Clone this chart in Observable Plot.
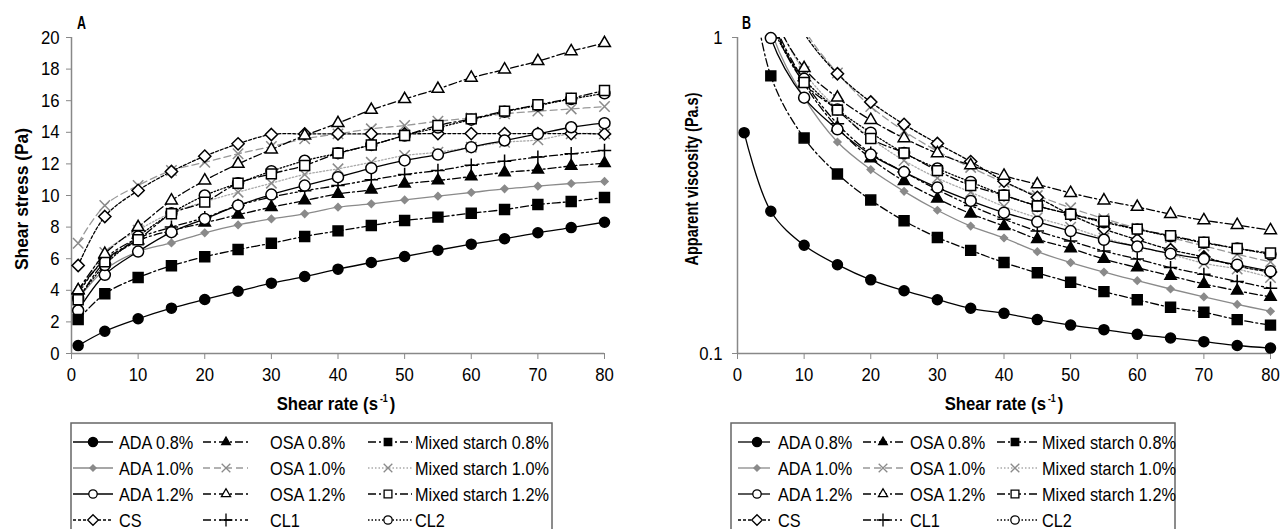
<!DOCTYPE html>
<html><head><meta charset="utf-8">
<script src="https://cdn.jsdelivr.net/npm/d3@7"></script>
<script src="https://cdn.jsdelivr.net/npm/@observablehq/plot@0.6"></script>
<style>
html,body{margin:0;padding:0;background:#fff;}
body{width:1286px;height:529px;overflow:hidden;position:relative;font-family:"Liberation Sans",Arial,sans-serif;}
.panel{position:absolute;top:0;}
#leg{position:absolute;left:0;top:0;pointer-events:none;}
</style></head><body>
<div id="A" class="panel" style="left:0px"></div>
<div id="B" class="panel" style="left:643px"></div>
<svg id="leg" width="1286" height="529"></svg>
<script>
// ---------------- data ----------------
const rates = [1,5,10,15,20,25,30,35,40,45,50,55,60,65,70,75,80];
const seriesNames = ["ADA 0.8%","OSA 0.8%","Mixed starch 0.8%","ADA 1.0%","OSA 1.0%","Mixed starch 1.0%","ADA 1.2%","OSA 1.2%","Mixed starch 1.2%","CS","CL1","CL2"];
const xTicks = [0,10,20,30,40,50,60,70,80];
const yTicksA = [0,2,4,6,8,10,12,14,16,18,20];
const yTicksB = [0.1,1];

// Panel A: shear stress (Pa)
const stressADA08 = [0.5,1.41,2.2,2.87,3.42,3.94,4.45,4.87,5.34,5.76,6.14,6.54,6.92,7.26,7.64,7.97,8.31];
const stressOSA08 = [4.0,5.9,7.15,7.78,8.27,8.78,9.26,9.68,10.1,10.36,10.74,10.95,11.2,11.46,11.63,11.87,12.04];
const stressMS08  = [2.15,3.78,4.81,5.55,6.12,6.58,6.98,7.41,7.76,8.1,8.42,8.63,8.88,9.11,9.43,9.62,9.87];
const stressADA10 = [3.46,5.3,6.45,7.0,7.64,8.14,8.52,8.84,9.26,9.47,9.72,9.96,10.19,10.42,10.59,10.76,10.89];
const stressOSA10 = [6.98,9.37,10.63,11.58,12.1,12.64,13.1,13.59,13.9,14.22,14.43,14.7,14.91,15.17,15.34,15.48,15.63];
const stressMS10  = [3.6,6.4,7.8,8.9,9.6,10.21,10.78,11.33,11.69,12.1,12.53,12.74,13.06,13.37,13.52,13.9,13.9];
const stressADA12 = [2.72,4.98,6.45,7.68,8.52,9.37,10.06,10.63,11.16,11.73,12.22,12.59,13.06,13.48,13.9,14.32,14.58];
const stressOSA12 = [4.0,6.3,8.0,9.68,10.95,12.0,12.91,13.8,14.58,15.42,16.1,16.75,17.45,17.97,18.5,19.13,19.64];
const stressMS12  = [3.4,5.8,7.2,8.84,9.58,10.78,11.37,11.9,12.68,13.2,13.8,14.43,14.85,15.34,15.74,16.16,16.65];
const stressCS    = [5.57,8.67,10.32,11.52,12.49,13.27,13.86,13.9,13.9,13.9,13.9,13.92,13.92,13.92,13.92,13.92,13.9];
const stressCL1   = [3.8,6.0,7.3,8.0,8.6,9.37,9.9,10.3,10.63,10.99,11.33,11.58,11.92,12.17,12.43,12.64,12.85];
const stressCL2   = [3.5,5.6,7.4,8.88,10.0,10.78,11.54,12.2,12.68,13.2,13.8,14.3,14.8,15.3,15.7,16.1,16.47];

// Panel B: apparent viscosity (Pa.s)
const viscADA08 = [0.5,0.282,0.22,0.191,0.171,0.158,0.148,0.139,0.134,0.128,0.123,0.119,0.115,0.112,0.109,0.106,0.104];
const viscOSA08 = [4.0,1.18,0.715,0.519,0.414,0.351,0.309,0.277,0.253,0.23,0.215,0.199,0.187,0.176,0.166,0.158,0.151];
const viscMS08  = [2.15,0.756,0.481,0.37,0.306,0.263,0.233,0.212,0.194,0.18,0.168,0.157,0.148,0.14,0.135,0.128,0.123];
const viscADA10 = [3.46,1.06,0.645,0.467,0.382,0.326,0.284,0.253,0.232,0.21,0.194,0.181,0.17,0.16,0.151,0.143,0.136];
const viscOSA10 = [6.98,1.87,1.063,0.772,0.605,0.506,0.437,0.388,0.348,0.316,0.289,0.267,0.249,0.233,0.219,0.206,0.195];
const viscMS10  = [3.6,1.28,0.78,0.593,0.48,0.408,0.359,0.324,0.292,0.269,0.251,0.232,0.218,0.206,0.193,0.185,0.174];
const viscADA12 = [2.72,0.996,0.645,0.512,0.426,0.375,0.335,0.304,0.279,0.261,0.244,0.229,0.218,0.207,0.199,0.191,0.182];
const viscOSA12 = [4.0,1.26,0.8,0.645,0.548,0.48,0.43,0.394,0.365,0.343,0.322,0.305,0.291,0.276,0.264,0.255,0.2455];
const viscMS12  = [3.4,1.16,0.72,0.589,0.479,0.431,0.379,0.34,0.317,0.293,0.276,0.262,0.2475,0.236,0.225,0.215,0.208];
const viscCS    = [5.57,1.73,1.032,0.768,0.625,0.531,0.462,0.405,0.351,0.312,0.275,0.248,0.229,0.213,0.202,0.189,0.181];
const viscCL1   = [3.8,1.2,0.73,0.533,0.43,0.375,0.33,0.294,0.266,0.244,0.227,0.211,0.199,0.187,0.178,0.169,0.161];
const viscCL2   = [3.5,1.12,0.74,0.592,0.5,0.431,0.385,0.349,0.317,0.293,0.276,0.26,0.247,0.235,0.224,0.215,0.206];

const stressBy = {"ADA 0.8%":stressADA08,"OSA 0.8%":stressOSA08,"Mixed starch 0.8%":stressMS08,"ADA 1.0%":stressADA10,"OSA 1.0%":stressOSA10,"Mixed starch 1.0%":stressMS10,"ADA 1.2%":stressADA12,"OSA 1.2%":stressOSA12,"Mixed starch 1.2%":stressMS12,"CS":stressCS,"CL1":stressCL1,"CL2":stressCL2};
const viscBy = {"ADA 0.8%":viscADA08,"OSA 0.8%":viscOSA08,"Mixed starch 0.8%":viscMS08,"ADA 1.0%":viscADA10,"OSA 1.0%":viscOSA10,"Mixed starch 1.0%":viscMS10,"ADA 1.2%":viscADA12,"OSA 1.2%":viscOSA12,"Mixed starch 1.2%":viscMS12,"CS":viscCS,"CL1":viscCL1,"CL2":viscCL2};

// ---------------- styles ----------------
const DD = "8,3,2,3";
const styles = {
  "ADA 0.8%":          {stroke:"#000", dash:null,          symbol:"circle",   fill:"#000", ms:"#000", r:5,   lr:4.6},
  "OSA 0.8%":          {stroke:"#000", dash:DD,            symbol:"triangle", fill:"#000", ms:"#000", r:4.2, lr:3.2},
  "Mixed starch 0.8%": {stroke:"#000", dash:DD,            symbol:"square",   fill:"#000", ms:"#000", r:5.6, lr:4.2},
  "ADA 1.0%":          {stroke:"#8a8a8a", dash:null,       symbol:"diamond2", fill:"#8a8a8a", ms:"#8a8a8a", r:3.2, lr:2.8},
  "OSA 1.0%":          {stroke:"#999", dash:"7,4",         symbol:"times",    fill:"none", ms:"#8a8a8a", r:4.8, lr:4},
  "Mixed starch 1.0%": {stroke:"#aaa", dash:"1.5,2",       symbol:"times",    fill:"none", ms:"#8a8a8a", r:4.8, lr:4},
  "ADA 1.2%":          {stroke:"#000", dash:null,          symbol:"circle",   fill:"#fff", ms:"#000", r:5.5, lr:4.2},
  "OSA 1.2%":          {stroke:"#000", dash:DD,            symbol:"triangle", fill:"#fff", ms:"#000", r:4.4, lr:3.4},
  "Mixed starch 1.2%": {stroke:"#000", dash:DD,            symbol:"square",   fill:"#fff", ms:"#000", r:5.6, lr:4.4},
  "CS":                {stroke:"#000", dash:"3,2",         symbol:"diamond2", fill:"#fff", ms:"#000", r:5.5, lr:4.8},
  "CL1":               {stroke:"#000", dash:"8,3,2,3,2,3", symbol:"plus",     fill:"none", ms:"#000", r:4.4, lr:4.2},
  "CL2":               {stroke:"#000", dash:"1.5,2",       symbol:"circle",   fill:"#fff", ms:"#000", r:5.5, lr:4.2}
};
const drawOrder = ["Mixed starch 1.0%","OSA 1.0%","ADA 1.0%","CS","CL1","OSA 0.8%","ADA 1.2%","CL2","Mixed starch 1.2%","OSA 1.2%","Mixed starch 0.8%","ADA 0.8%"];

const FONT = '"Liberation Sans",Arial,sans-serif';
const AXC = "#888";
const SQUEEZE = 0.88;

// horizontally condense text via textLength (the reference uses a narrow grotesque)
function condense(root, k) {
  d3.select(root).selectAll("text").each(function() {
    if (this.getAttribute("textLength")) return;
    const w = this.getComputedTextLength();
    if (w > 0) {
      this.setAttribute("textLength", (w * k).toFixed(2));
      this.setAttribute("lengthAdjust", "spacingAndGlyphs");
    }
  });
}

function seriesMarks(valuesBy, keep) {
  const marks = [];
  for (const name of drawOrder) {
    const st = styles[name];
    const data = rates.map((r, j) => ({x: r, y: valuesBy[name][j]}));
    marks.push(Plot.line(data, {x: "x", y: "y", stroke: st.stroke, strokeWidth: 1.3, strokeDasharray: st.dash || undefined, curve: "catmull-rom", clip: true}));
    marks.push(Plot.dot(data.filter(keep), {x: "x", y: "y", symbol: st.symbol, r: st.r, fill: st.fill, stroke: st.ms, strokeWidth: 1.5}));
  }
  return marks;
}

const baseStyle = {fontFamily: FONT, fontSize: "19px", color: "#000", background: "transparent", overflow: "visible"};

// ---------------- Panel A ----------------
const plotA = Plot.plot({
  width: 643, height: 420,
  marginLeft: 71, marginRight: 39, marginTop: 37, marginBottom: 67,
  style: baseStyle,
  x: {domain: [0, 80]},
  y: {domain: [0, 20]},
  marks: [
    Plot.axisX({ticks: xTicks, tickSize: 6, tickPadding: 8, stroke: AXC, label: null, tickFormat: d => d}),
    Plot.axisY({ticks: yTicksA, tickSize: 5, tickPadding: 7, stroke: AXC, label: null, tickFormat: d => d}),
    Plot.ruleX([0], {stroke: AXC, strokeWidth: 1.5}),
    Plot.ruleY([0], {stroke: AXC, strokeWidth: 1.5}),
    ...seriesMarks(stressBy, d => true)
  ]
});
document.getElementById("A").appendChild(plotA);

// ---------------- Panel B ----------------
const plotB = Plot.plot({
  width: 643, height: 420,
  marginLeft: 94, marginRight: 16, marginTop: 37, marginBottom: 67,
  style: baseStyle,
  x: {domain: [0, 80]},
  y: {type: "log", domain: [0.1, 1]},
  marks: [
    Plot.axisX({ticks: xTicks, tickSize: 6, tickPadding: 8, stroke: AXC, label: null, tickFormat: d => d}),
    Plot.axisY({ticks: yTicksB, tickSize: 5, tickPadding: 10, stroke: AXC, label: null, tickFormat: d => String(d)}),
    Plot.ruleX([0], {stroke: AXC, strokeWidth: 1.5}),
    Plot.ruleY([0.1], {stroke: AXC, strokeWidth: 1.5}),
    ...seriesMarks(viscBy, d => d.y <= 1.0 && d.y >= 0.1)
  ]
});
document.getElementById("B").appendChild(plotB);

condense(plotA, SQUEEZE);
condense(plotB, SQUEEZE);

// titles
function addTitles(svgEl, cfg) {
  const s = d3.select(svgEl);
  s.append("text").attr("x", cfg.px).attr("y", 29).attr("text-anchor", "start").attr("font-weight", "bold").attr("font-size", 18)
    .attr("textLength", 9).attr("lengthAdjust", "spacingAndGlyphs").text(cfg.panel);
  s.append("text").attr("transform", `translate(${cfg.yx},${cfg.yy}) rotate(-90)`)
    .attr("text-anchor", "middle").attr("font-weight", "bold").attr("font-size", 19)
    .attr("textLength", cfg.ylen).attr("lengthAdjust", "spacingAndGlyphs").text(cfg.ytitle);
  // x title built from three pieces laid side by side (main text, superscript, closing bracket)
  const parts = [
    {t: "Shear rate (s", size: 19, dy: 0},
    {t: "-1", size: 10, dy: -8},
    {t: ")", size: 19, dy: 0}
  ].map(p => {
    const el = s.append("text").attr("text-anchor", "start").attr("font-weight", "bold").attr("font-size", p.size).attr("y", 410 + p.dy).text(p.t);
    const w = el.node().getComputedTextLength() * SQUEEZE;
    el.attr("textLength", w.toFixed(2)).attr("lengthAdjust", "spacingAndGlyphs");
    return {el, w};
  });
  const gap = 2;
  const total = d3.sum(parts, p => p.w) + 2 * gap;
  let x = cfg.xx - total / 2;
  parts.forEach(p => { p.el.attr("x", x.toFixed(2)); x += p.w + gap; });
}
addTitles(plotA, {panel: "A", px: 77, ytitle: "Shear stress (Pa)", yx: 28, yy: 199, ylen: 142, xx: 336});
addTitles(plotB, {panel: "B", px: 99, ytitle: "Apparent viscosity (Pa.s)", yx: 55, yy: 179, ylen: 173, xx: 361});

// ---------------- Legends ----------------
const legendRows = [
  ["ADA 0.8%","OSA 0.8%","Mixed starch 0.8%"],
  ["ADA 1.0%","OSA 1.0%","Mixed starch 1.0%"],
  ["ADA 1.2%","OSA 1.2%","Mixed starch 1.2%"],
  ["CS","CL1","CL2"]
];
const rowY = [442, 468, 494, 520];
const symMap = {circle: d3.symbolCircle, triangle: d3.symbolTriangle, square: d3.symbolSquare, diamond2: d3.symbolDiamond2, times: d3.symbolTimes, plus: d3.symbolPlus};
function legend(cfg) {
  const s = d3.select("#leg").append("g").style("font-family", FONT);
  s.append("rect").attr("x", cfg.x0).attr("y", 423).attr("width", cfg.x1 - cfg.x0).attr("height", 140)
    .attr("fill", "#fff").attr("stroke", "#666").attr("stroke-width", 1.5);
  legendRows.forEach((row, ri) => row.forEach((name, ci) => {
    const st = styles[name], c = cfg.cols[ci], y = rowY[ri];
    s.append("line").attr("x1", c[0]).attr("x2", c[1]).attr("y1", y).attr("y2", y)
      .attr("stroke", st.stroke).attr("stroke-width", 1.3).attr("stroke-dasharray", st.dash || null);
    s.append("path").attr("transform", `translate(${c[2]},${y})`)
      .attr("d", d3.symbol(symMap[st.symbol], Math.PI * st.lr * st.lr)())
      .attr("fill", st.fill).attr("stroke", st.ms).attr("stroke-width", 1.3);
    s.append("text").attr("x", c[3]).attr("y", y + 6.5).attr("font-size", 18.5).text(name);
  }));
  condense(s.node(), SQUEEZE);
}
legend({x0: 71, x1: 552, cols: [[73,113,93,119],[203,248,226,270],[368,412,388,415]]});
legend({x0: 731, x1: 1175, cols: [[738,770,757,778],[863,905,883,910],[997,1037,1015,1042]]});
</script>
</body></html>
